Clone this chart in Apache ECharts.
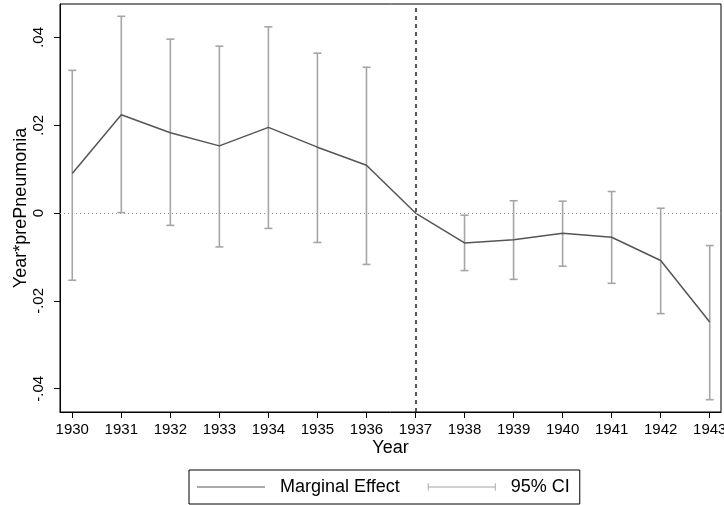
<!DOCTYPE html>
<html>
<head>
<meta charset="utf-8">
<script src="https://cdn.jsdelivr.net/npm/echarts@6/dist/echarts.min.js"></script>
<style>
  html, body { margin: 0; padding: 0; background: #fff; }
  #chart { width: 724px; height: 505px; }
</style>
</head>
<body>
<div id="chart"></div>
<script>
// data
const years = [1930, 1931, 1932, 1933, 1934, 1935, 1936, 1937, 1938, 1939, 1940, 1941, 1942, 1943];
const effect = [0.0090, 0.0224, 0.0183, 0.0153, 0.0195, 0.0150, 0.0109, 0.0000, -0.0068, -0.0061, -0.0046, -0.0055, -0.0108, -0.0248];
const ciUpper = [0.0325, 0.0448, 0.0396, 0.0380, 0.0424, 0.0364, 0.0332, null, -0.0005, 0.0028, 0.0027, 0.0049, 0.0011, -0.0074];
const ciLower = [-0.0153, 0.0001, -0.0028, -0.0077, -0.0035, -0.0067, -0.0117, null, -0.0131, -0.0151, -0.0121, -0.0160, -0.0229, -0.0425];
const yTicks = [-0.04, -0.02, 0, 0.02, 0.04];
const refYear = 1937;

const font = "Liberation Sans, Arial, sans-serif";
const ciColor = "#a6a6a6";
const lineColor = "#555555";

// stata style labels: .04, -.02, 0
function stataLabel(v) {
  if (Math.abs(v) < 1e-9) return "0";
  return v.toFixed(2).replace("0.", ".");
}

const ciData = [];
years.forEach((y, i) => {
  if (ciUpper[i] !== null) ciData.push([y, ciLower[i], ciUpper[i]]);
});

const chart = echarts.init(document.getElementById("chart"));

chart.setOption({
  animation: false,
  grid: {
    left: 60,
    right: 3,
    top: 4,
    bottom: 93,
    outerBoundsMode: "none",
    containLabel: false,
    show: true,
    borderColor: "#000",
    borderWidth: 1
  },
  legend: {
    bottom: 1,
    left: 189,
    itemGap: 28,
    padding: [8, 10, 8, 8],
    borderColor: "#000",
    borderWidth: 1,
    borderRadius: 0,
    itemWidth: 68,
    itemHeight: 8,
    textStyle: { fontFamily: font, fontSize: 18, color: "#000", padding: [0, 0, 0, 10] },
    data: [
      { name: "Marginal Effect", icon: "path://M0,3.5 H66 V4.5 H0 Z", itemStyle: { color: lineColor } },
      { name: "95% CI", icon: "path://M0,0 H1 V8 H0 Z M0,3.5 H72 V4.5 H0 Z M71,0 H72 V8 H71 Z", itemStyle: { color: ciColor } }
    ]
  },
  xAxis: {
    type: "value",
    min: 1929.75,
    max: 1943.23,
    name: "Year",
    nameLocation: "middle",
    nameGap: 27,
    nameMoveOverlap: false,
    nameTextStyle: { fontFamily: font, fontSize: 18, color: "#000" },
    axisLine: { show: true, onZero: false, lineStyle: { color: "#000", width: 1 } },
    axisTick: { show: true, length: 6, customValues: years, lineStyle: { color: "#000" } },
    axisLabel: {
      customValues: years,
      fontFamily: font,
      fontSize: 15,
      color: "#000",
      margin: 10,
      formatter: v => String(v)
    },
    splitLine: { show: false }
  },
  yAxis: {
    type: "value",
    min: -0.0453,
    max: 0.0476,
    name: "Year*prePneumonia",
    nameLocation: "middle",
    nameGap: 30,
    nameMoveOverlap: false,
    nameTextStyle: { fontFamily: font, fontSize: 18, color: "#000" },
    axisLine: { show: true, onZero: false, lineStyle: { color: "#000", width: 1 } },
    axisTick: { show: true, length: 6, customValues: yTicks, lineStyle: { color: "#000" } },
    axisLabel: {
      customValues: yTicks,
      rotate: 90,
      fontFamily: font,
      fontSize: 15,
      color: "#000",
      margin: 14,
      formatter: stataLabel
    },
    splitLine: { show: false }
  },
  series: [
    {
      name: "95% CI",
      type: "custom",
      data: ciData,
      itemStyle: { color: ciColor },
      renderItem: function (params, api) {
        const x = api.value(0);
        const lo = api.coord([x, api.value(1)]);
        const hi = api.coord([x, api.value(2)]);
        const half = 4;
        const style = { stroke: ciColor, lineWidth: 1.6, fill: null };
        return {
          type: "group",
          children: [
            { type: "line", shape: { x1: lo[0], y1: lo[1], x2: hi[0], y2: hi[1] }, style: style },
            { type: "line", shape: { x1: lo[0] - half, y1: lo[1], x2: lo[0] + half, y2: lo[1] }, style: style },
            { type: "line", shape: { x1: hi[0] - half, y1: hi[1], x2: hi[0] + half, y2: hi[1] }, style: style }
          ]
        };
      },
      z: 2
    },
    {
      name: "Marginal Effect",
      type: "line",
      data: years.map((y, i) => [y, effect[i]]),
      showSymbol: false,
      symbol: "none",
      lineStyle: { color: lineColor, width: 1.5 },
      itemStyle: { color: lineColor },
      z: 3,
      markLine: {
        silent: true,
        symbol: "none",
        label: { show: false },
        data: [
          { yAxis: 0, lineStyle: { color: "#999", type: [1, 3], width: 1 } },
          { xAxis: refYear, lineStyle: { color: "#222", type: [4, 4], width: 1.5 } }
        ]
      }
    }
  ]
});
</script>
</body>
</html>
